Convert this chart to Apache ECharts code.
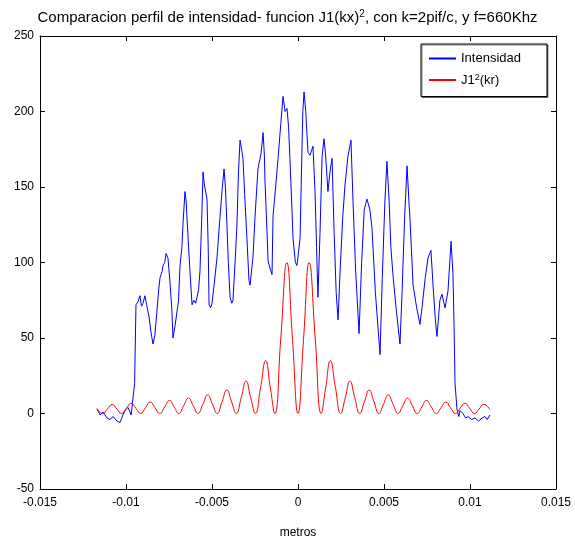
<!DOCTYPE html>
<html><head><meta charset="utf-8">
<script src="https://cdn.jsdelivr.net/npm/echarts@6/dist/echarts.min.js"></script>
<style>html,body{margin:0;padding:0;background:#fff}#c{width:575px;height:544px}</style>
</head><body><div id="c"></div>
<script>
const xTickLabels = ['-0.015','-0.01','-0.005','0','0.005','0.01','0.015'];
const yTickLabels = ['-50','0','50','100','150','200','250'];

const intensidadX = [-0.01169,-0.01150,-0.01134,-0.01110,-0.01093,-0.01075,-0.01052,-0.01035,-0.01018,-0.01000,-0.00988,-0.00970,-0.00959,-0.00950,-0.00942,-0.00930,-0.00919,-0.00910,-0.00901,-0.00890,-0.00880,-0.00866,-0.00855,-0.00849,-0.00843,-0.00832,-0.00820,-0.00810,-0.00802,-0.00790,-0.00785,-0.00775,-0.00767,-0.00756,-0.00745,-0.00733,-0.00727,-0.00715,-0.00703,-0.00695,-0.00686,-0.00675,-0.00669,-0.00657,-0.00650,-0.00645,-0.00636,-0.00628,-0.00616,-0.00605,-0.00595,-0.00587,-0.00578,-0.00570,-0.00560,-0.00552,-0.00545,-0.00529,-0.00522,-0.00517,-0.00508,-0.00500,-0.00488,-0.00471,-0.00455,-0.00442,-0.00430,-0.00422,-0.00413,-0.00405,-0.00395,-0.00385,-0.00378,-0.00366,-0.00355,-0.00346,-0.00337,-0.00328,-0.00320,-0.00310,-0.00297,-0.00285,-0.00279,-0.00262,-0.00250,-0.00233,-0.00215,-0.00203,-0.00195,-0.00192,-0.00180,-0.00174,-0.00160,-0.00151,-0.00145,-0.00130,-0.00116,-0.00100,-0.00087,-0.00075,-0.00064,-0.00055,-0.00047,-0.00035,-0.00029,-0.00015,-0.00006,0.00012,0.00020,0.00028,0.00035,0.00045,0.00058,0.00070,0.00087,0.00099,0.00108,0.00116,0.00128,0.00140,0.00151,0.00160,0.00174,0.00186,0.00198,0.00210,0.00222,0.00233,0.00245,0.00260,0.00273,0.00290,0.00308,0.00320,0.00335,0.00355,0.00370,0.00385,0.00401,0.00418,0.00430,0.00450,0.00477,0.00490,0.00505,0.00517,0.00530,0.00540,0.00552,0.00570,0.00593,0.00605,0.00620,0.00634,0.00645,0.00651,0.00669,0.00690,0.00709,0.00721,0.00740,0.00756,0.00773,0.00785,0.00800,0.00808,0.00825,0.00837,0.00855,0.00872,0.00885,0.00890,0.00901,0.00907,0.00913,0.00924,0.00935,0.00942,0.00959,0.00975,0.00988,0.01010,0.01029,0.01050,0.01070,0.01087,0.01100,0.01116];
const intensidadY = [3,-1,1,-3,-4,-2,-5,-6,-1,3,4,-1,-2,20,72,74,78,71,73,78,72,64,54,50,46,52,68,82,90,94,98,100,106,103,88,68,50,58,68,74,98,110,125,147,140,129,110,94,72,75,73,77,82,94,128,160,152,142,110,72,70,73,85,103,128,147,162,150,125,100,77,73,75,100,125,160,181,175,169,145,116,88,85,103,130,162,172,186,170,154,120,101,95,92,131,150,169,192,210,200,202,190,169,135,116,100,98,116,160,200,213,200,173,171,177,147,110,77,120,170,182,172,147,160,169,120,80,62,95,130,151,170,181,140,95,53,100,135,142,135,123,80,39,90,140,167,140,110,92,70,46,80,130,164,140,129,85,70,59,70,90,103,108,85,60,51,75,79,70,81,105,114,92,60,20,3,-2,2,0,-3,-2,-4,-3,-5,-3,-2,-4,-1];

const j1X = [-0.01169,-0.01137,-0.01108,-0.01080,-0.01053,-0.01026,-0.00998,-0.00970,-0.00942,-0.00915,-0.00887,-0.00859,-0.00831,-0.00804,-0.00775,-0.00747,-0.00720,-0.00693,-0.00665,-0.00637,-0.00609,-0.00582,-0.00553,-0.00525,-0.00497,-0.00470,-0.00442,-0.00414,-0.00386,-0.00359,-0.00330,-0.00302,-0.00275,-0.00248,-0.00218,-0.00188,-0.00161,-0.00135,-0.00100,-0.00065,-0.00032,0,0.00032,0.00065,0.00100,0.00135,0.00161,0.00188,0.00218,0.00248,0.00275,0.00302,0.00330,0.00359,0.00386,0.00414,0.00442,0.00470,0.00497,0.00525,0.00553,0.00582,0.00609,0.00637,0.00665,0.00693,0.00720,0.00747,0.00775,0.00804,0.00831,0.00859,0.00887,0.00915,0.00942,0.00970,0.00998,0.01026,0.01053,0.01080,0.01116];
const j1Y = [3.3,0,3,6,3,0,3.4,6.8,3.4,0,3.8,7.6,3.8,0,4.3,8.7,4.3,0,5.1,10.2,5.1,0,6.1,12.3,6.1,0,7.7,15.5,7.7,0,10.5,21.5,10.5,0,17,35,17,0,50,100,49,0,49,100,50,0,17,35,17,0,10.5,21.5,10.5,0,7.7,15.5,7.7,0,6.1,12.3,6.1,0,5.1,10.2,5.1,0,4.3,8.7,4.3,0,3.8,7.6,3.8,0,3.4,6.8,3.4,0,3,6.1,2.6];

const FONT = 'Liberation Sans, Arial, sans-serif';
const pairs = (xs, ys) => xs.map((x, i) => [x, ys[i]]);
const fmtX = v => { const i = Math.round((v + 0.015) / 0.005); return xTickLabels[i] ?? ''; };
const fmtY = v => { const i = Math.round((v + 50) / 50); return yTickLabels[i] ?? ''; };

const chart = echarts.init(document.getElementById('c'));
const axisLine = { show: true, onZero: false, lineStyle: { color: '#000', width: 1 } };
const tick = { show: true, inside: true, length: 5, lineStyle: { color: '#000' } };
chart.setOption({
  backgroundColor: '#fff',
  animation: false,
  title: {
    text: 'Comparacion perfil de intensidad- funcion {a|J1(kx)}{s|2}{a|, con k=2pif/c, y f=660Khz}',
    left: 'center', top: 4,
    textStyle: {
      fontFamily: FONT, fontSize: 15, fontWeight: 'normal', color: '#000',
      rich: { a: { fontFamily: FONT, fontSize: 15, color: '#000' },
              s: { fontFamily: FONT, fontSize: 10, color: '#000', verticalAlign: 'top', padding: [0, 0, 7, 0] } }
    }
  },
  grid: { left: 40, right: 19, top: 36, bottom: 51, containLabel: false },
  legend: {
    left: 421, top: 44, orient: 'vertical',
    backgroundColor: '#fff', borderColor: '#000', borderWidth: 1, borderRadius: 0,
    shadowColor: 'rgba(0,0,0,0.5)', shadowOffsetX: 1, shadowOffsetY: 1, shadowBlur: 0,
    padding: [8, 26, 10, 8], itemGap: 8, itemWidth: 27, itemHeight: 2, icon: 'rect',
    textStyle: {
      fontFamily: FONT, fontSize: 13, color: '#000',
      rich: { a: { fontFamily: FONT, fontSize: 13, color: '#000' },
              s: { fontFamily: FONT, fontSize: 9, color: '#000', verticalAlign: 'top', padding: [0, 0, 5, 0] } }
    },
    formatter: n => n === 'J1' ? '{a|J1}{s|2}{a|(kr)}' : n,
    data: ['Intensidad', 'J1']
  },
  xAxis: [
    { type: 'value', min: -0.015, max: 0.015, interval: 0.005, position: 'bottom',
      name: 'metros', nameLocation: 'middle', nameGap: 38,
      nameTextStyle: { fontFamily: FONT, fontSize: 12, color: '#000' },
      axisLine, axisTick: tick, splitLine: { show: false },
      axisLabel: { formatter: fmtX, fontFamily: FONT, fontSize: 12, color: '#000', margin: 8 } },
    { type: 'value', min: -0.015, max: 0.015, interval: 0.005, position: 'top',
      axisLine, axisTick: tick, splitLine: { show: false }, axisLabel: { show: false } }
  ],
  yAxis: [
    { type: 'value', min: -50, max: 250, interval: 50, position: 'left',
      axisLine, axisTick: tick, splitLine: { show: false },
      axisLabel: { formatter: fmtY, fontFamily: FONT, fontSize: 12, color: '#000', margin: 6 } },
    { type: 'value', min: -50, max: 250, interval: 50, position: 'right',
      axisLine, axisTick: tick, splitLine: { show: false }, axisLabel: { show: false } }
  ],
  series: [
    { name: 'Intensidad', type: 'line', data: pairs(intensidadX, intensidadY),
      showSymbol: false, symbol: 'none', lineStyle: { color: '#0000ff', width: 1 }, itemStyle: { color: '#0000ff' } },
    { name: 'J1', type: 'line', data: pairs(j1X, j1Y), smooth: 0.5,
      showSymbol: false, symbol: 'none', lineStyle: { color: '#ff0000', width: 1 }, itemStyle: { color: '#ff0000' } }
  ]
});
</script>
</body></html>
